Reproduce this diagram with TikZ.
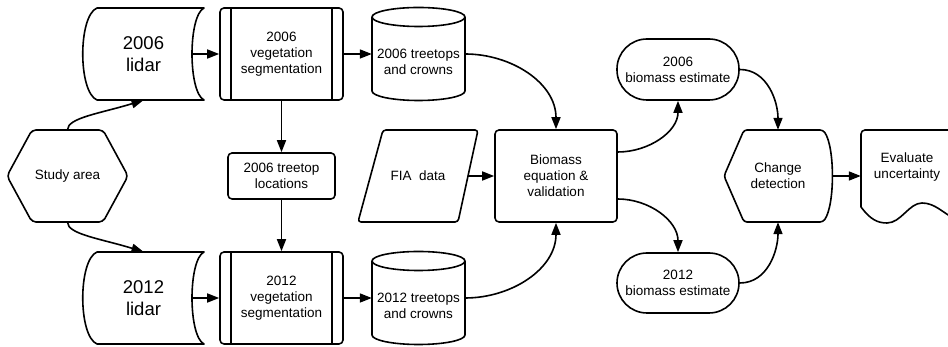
\documentclass[tikz,border=0pt]{standalone}
\usepackage{fontspec}
\setmainfont{Liberation Sans}
\usetikzlibrary{arrows.meta}

\newcommand{\flowtext}{\fontsize{13.5}{16}\selectfont}
\newcommand{\lidartext}{\fontsize{18.5}{22}\selectfont}

\begin{document}
\begin{tikzpicture}[x=1pt, y=1pt]
  % Define styles
  \tikzset{
    outline/.style={line width=1.6pt, line join=round},
    flow/.style={-{Triangle[length=12pt, width=9pt]}, line width=1.6pt},
    holder/.style={inner sep=0pt, align=center, font=\flowtext},
    txt/.style={inner sep=0pt, align=center, font=\flowtext},
    procbox/.style={holder, draw, outline, rounded corners=4pt}
  }
  \useasboundingbox (0,0) rectangle (948,347);
  \clip (0,0) rectangle (948,347);

  % Study area (left)
  \node[holder, minimum width=121pt, minimum height=92pt] (study) at (67.5,171) {Study area};
  \draw[outline, rounded corners=4pt] (32,217) -- (103,217) -- (128,171) -- (103,125) -- (32,125) -- (7,171) -- cycle;

  % The two lidar rows
  \foreach \yr/\dy in {2006/0, 2012/-244} {
    \begin{scope}[shift={(0,\dy)}]
      % Stored lidar data
      \draw[outline] (97,339) -- (204,339) .. controls (188,331) and (188,255) .. (204,247)
        -- (97,247) .. controls (78,255) and (78,331) .. (97,339) -- cycle;
      \node[holder, font=\lidartext, minimum width=121pt, minimum height=92pt] (lidar\yr) at (143.5,293) {\yr\\lidar};
      \coordinate (lidarout\yr) at (192,293);

      % Segmentation process
      \node[procbox, minimum width=123pt, minimum height=92pt] (veg\yr) at (281.5,293) {\yr\\vegetation\\segmentation};
      \draw[outline] ([xshift=12pt]veg\yr.north west) -- ([xshift=12pt]veg\yr.south west)
        ([xshift=-12pt]veg\yr.north east) -- ([xshift=-12pt]veg\yr.south east);

      % Treetops and crowns store
      \node[holder, minimum width=93pt, minimum height=92pt] (crowns\yr) at (418.5,293) {};
      \draw[outline] (372,330) -- (372,256) arc[start angle=180, end angle=360, x radius=46.5, y radius=9.5] -- (465,330);
      \draw[outline] (418.5,330) ellipse [x radius=46.5, y radius=9.5];
      \node[txt] (crownstext\yr) at (418.5,285) {\yr{} treetops\\and crowns};

      \draw[flow] (lidarout\yr) -- (veg\yr);
      \draw[flow] (veg\yr) -- (crowns\yr);
    \end{scope}
  }

  % 2006 treetop locations
  \node[procbox, minimum width=107pt, minimum height=46pt] (loc) at (281.5,171) {2006 treetop\\locations};

  % FIA input
  \node[holder, minimum width=100pt, minimum height=92pt] (fia) at (418,171) {FIA\ \ data};
  \draw[outline, rounded corners=3pt] (383,217) -- (478,217) -- (458,125) -- (358,125) -- cycle;

  % Biomass model
  \node[procbox, minimum width=122pt, minimum height=92pt] (bio) at (556,171) {Biomass\\equation \&\\validation};

  % Biomass estimates
  \node[procbox, rounded corners=30pt, minimum width=122pt, minimum height=61pt] (est2006) at (678,277.5) {2006\\biomass estimate};
  \node[procbox, rounded corners=30pt, minimum width=122pt, minimum height=60pt] (est2012) at (678,64) {2012\\biomass estimate};

  % Change detection
  \node[holder, minimum width=108pt, minimum height=92pt] (change) at (778,171) {Change\\detection};
  \draw[outline, rounded corners=3pt] (724,171) -- (744,217) -- (823,217) .. controls (835,200) and (835,142) .. (823,125) -- (744,125) -- cycle;

  % Evaluate uncertainty document
  \node[holder, minimum width=92pt, minimum height=92pt] (eval) at (907,171) {};
  \draw[outline] (955,128) .. controls (943,134) and (935,144) .. (922,144) .. controls (909,144) and (901,124) .. (887,124) .. controls (877,124) and (870,128) .. (861,140) [rounded corners=4pt] -- (861,217) -- (955,217);
  \node[txt] (evaltext) at (907,180) {Evaluate\\uncertainty};

  % Connectors
  \draw[flow] (study.north) to[out=90, in=197, out distance=12pt, in distance=45pt] (lidar2006.south);
  \draw[flow] (study.south) to[out=-90, in=163, out distance=12pt, in distance=45pt] (lidar2012.north);
  \draw[flow] (veg2006) -- (loc);
  \draw[flow] (loc) -- (veg2012);
  \draw[flow] (crowns2006.east) to[out=0, in=90] (bio.north);
  \draw[flow] (crowns2012.east) to[out=0, in=-90] (bio.south);
  \draw[flow] (fia) -- (bio);
  \draw[flow] ([yshift=24pt]bio.east) to[out=0, in=-90] (est2006.south);
  \draw[flow] ([yshift=-23pt]bio.east) to[out=0, in=90] (est2012.north);
  \draw[flow] (est2006.east) to[out=0, in=90] (change.north);
  \draw[flow] (est2012.east) to[out=0, in=-90] (change.south);
  \draw[flow] (change) -- (eval);
\end{tikzpicture}
\end{document}
